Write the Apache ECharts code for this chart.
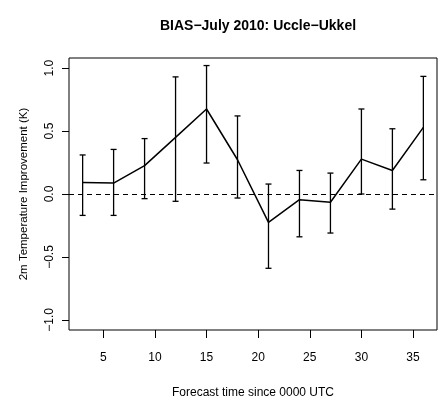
<!DOCTYPE html>
<html>
<head>
<meta charset="utf-8">
<script src="https://cdn.jsdelivr.net/npm/echarts@6/dist/echarts.min.js"></script>
<style>
  html, body { margin: 0; padding: 0; background: #fff; }
  #chart { width: 439px; height: 406px; }
</style>
</head>
<body>
<div id="chart"></div>
<script>
// forecast hours and bias values
var hours = [3, 6, 9, 12, 15, 18, 21, 24, 27, 30, 33, 36]
var bias = [0.092, 0.087, 0.225, 0.45, 0.675, 0.272, -0.225, -0.045, -0.066, 0.277, 0.187, 0.529]
var upper = [0.31, 0.354, 0.44, 0.93, 1.02, 0.62, 0.079, 0.187, 0.166, 0.675, 0.518, 0.934]
var lower = [-0.17, -0.17, -0.037, -0.058, 0.246, -0.032, -0.59, -0.34, -0.31, 0.0, -0.12, 0.113]
var xTicks = [5, 10, 15, 20, 25, 30, 35]
var yTicks = [-1, -0.5, 0, 0.5, 1]

var font = 'Liberation Sans, Arial, sans-serif'

var chart = echarts.init(document.getElementById('chart'))

var meanData = hours.map(function(h, i) { return [h, bias[i]] })
var barData = hours.map(function(h, i) { return [h, lower[i], upper[i]] })

chart.setOption({
  animation: false,
  title: {
    text: 'BIAS\u2212July 2010: Uccle\u2212Ukkel',
    left: 253,
    textAlign: 'center',
    top: 14,
    textStyle: { fontFamily: font, fontSize: 14, fontWeight: 'bold', color: '#000' }
  },
  grid: {
    left: 69,
    right: 2,
    top: 58,
    bottom: 76,
    show: true,
    borderColor: '#000',
    borderWidth: 1
  },
  xAxis: {
    type: 'value',
    min: 1.68,
    max: 37.32,
    name: 'Forecast time since 0000 UTC',
    nameLocation: 'middle',
    nameGap: 57,
    nameTextStyle: { fontFamily: font, fontSize: 12, color: '#000' },
    splitLine: { show: false },
    axisLine: { show: false, onZero: false },
    axisTick: { show: true, length: 8, customValues: xTicks, lineStyle: { color: '#000' } },
    axisLabel: { customValues: xTicks, margin: 22, fontFamily: font, fontSize: 12, color: '#000' }
  },
  yAxis: {
    type: 'value',
    min: -1.08,
    max: 1.08,
    name: '2m Temperature Improvement (K)',
    nameLocation: 'middle',
    nameRotate: 90,
    nameGap: 39,
    nameTextStyle: { fontFamily: font, fontSize: 11.5, color: '#000' },
    splitLine: { show: false },
    axisLine: { show: false, onZero: false },
    axisTick: { show: true, length: 7, customValues: yTicks, lineStyle: { color: '#000' } },
    axisLabel: {
      customValues: yTicks,
      rotate: 90,
      margin: 13,
      fontFamily: font,
      fontSize: 12,
      color: '#000',
      formatter: function(v) { return v.toFixed(1).replace('-', '\u2212') }
    }
  },
  series: [
    {
      type: 'line',
      data: meanData,
      symbol: 'none',
      lineStyle: { color: '#000', width: 1.5 },
      markLine: {
        silent: true,
        symbol: 'none',
        label: { show: false },
        lineStyle: { color: '#000', type: [5, 4], width: 1.2 },
        data: [{ yAxis: 0 }]
      }
    },
    {
      type: 'custom',
      data: barData,
      renderItem: function(params, api) {
        var lo = api.coord([api.value(0), api.value(1)])
        var hi = api.coord([api.value(0), api.value(2)])
        var w = 3
        var st = { stroke: '#000', lineWidth: 1.3 }
        return {
          type: 'group',
          children: [
            { type: 'line', shape: { x1: hi[0], y1: hi[1], x2: lo[0], y2: lo[1] }, style: st },
            { type: 'line', shape: { x1: hi[0] - w, y1: hi[1], x2: hi[0] + w, y2: hi[1] }, style: st },
            { type: 'line', shape: { x1: lo[0] - w, y1: lo[1], x2: lo[0] + w, y2: lo[1] }, style: st }
          ]
        }
      },
      z: 3
    }
  ]
})
</script>
</body>
</html>
